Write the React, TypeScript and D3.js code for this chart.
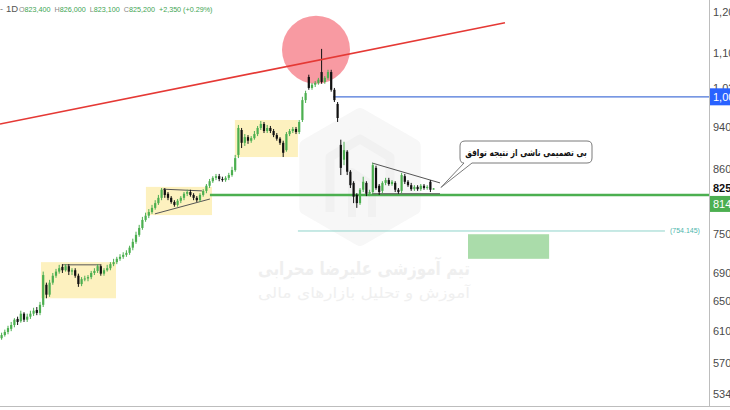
import React from "react";
import * as d3 from "d3";

// ---- Candle data (daily OHLC) ----
const opens = [
  601, 605, 609, 613, 618, 626, 623, 633, 625, 629,
  633, 638, 634, 645, 673, 659, 676, 686, 692, 699,
  694, 700, 692, 694, 686, 674, 681, 682, 684, 690,
  693, 700, 689, 694, 697, 703, 706, 711, 714, 717,
  720, 728, 737, 748, 759, 772, 779, 785, 792, 800,
  809, 823, 816, 809, 802, 797, 804, 809, 816, 819,
  814, 809, 805, 814, 821, 830, 838, 844, 847, 842,
  840, 844, 849, 858, 886, 934, 909, 920, 913, 918,
  926, 938, 946, 932, 938, 932, 924, 917, 909, 895,
  926, 932, 936, 930, 954, 995, 1045, 1021, 1028, 1032,
  1056, 1034, 1043, 1056, 1017, 987, 905, 877, 892, 855,
  835, 814, 800, 823, 835, 816, 819, 862, 830, 821,
  835, 840, 833, 835, 823, 821, 847, 837, 831, 824,
  828, 824, 830, 826, 837, 823.4,
];
const highs = [
  608, 612, 617, 622, 627, 629, 637, 635, 633, 637,
  641, 642, 649, 692, 676, 680, 690, 696, 702, 703,
  703, 703, 697, 697, 689, 684, 686, 687, 693, 697,
  703, 703, 697, 702, 706, 711, 714, 718, 721, 724,
  731, 742, 753, 764, 777, 784, 790, 797, 805, 814,
  826, 826, 819, 812, 805, 807, 812, 819, 823, 823,
  817, 812, 817, 824, 833, 842, 847, 851, 851, 846,
  847, 853, 864, 886, 944, 938, 926, 924, 922, 932,
  942, 952, 950, 944, 942, 936, 928, 920, 913, 930,
  936, 940, 940, 954, 1002, 1015, 1050, 1032, 1036, 1043,
  1109, 1047, 1061, 1061, 1021, 991, 915, 911, 895, 858,
  838, 817, 826, 846, 838, 823, 871, 866, 833, 838,
  844, 844, 840, 838, 826, 853, 851, 840, 835, 831,
  831, 833, 833, 831, 840, 826,
];
const lows = [
  599, 603, 606, 610, 615, 618, 621, 622, 622, 626,
  630, 631, 631, 642, 654, 656, 673, 683, 689, 690,
  692, 687, 687, 683, 670, 671, 678, 678, 681, 687,
  690, 686, 686, 692, 694, 700, 703, 708, 711, 714,
  717, 724, 734, 745, 756, 769, 775, 782, 789, 797,
  805, 809, 805, 799, 794, 794, 800, 805, 812, 811,
  805, 802, 802, 811, 817, 826, 835, 840, 838, 837,
  837, 840, 846, 855, 880, 899, 903, 907, 909, 915,
  922, 934, 928, 928, 928, 920, 913, 905, 882, 892,
  922, 928, 926, 926, 950, 989, 1017, 1017, 1023, 1028,
  1030, 1030, 1039, 1013, 991, 950, 849, 867, 849, 826,
  800, 792, 797, 819, 812, 812, 816, 823, 814, 817,
  831, 830, 830, 819, 816, 817, 833, 828, 821, 821,
  821, 821, 823, 823, 819, 823.1,
];
const closes = [
  605, 609, 614, 618, 625, 622, 633, 625, 629, 633,
  637, 634, 645, 687, 659, 676, 686, 692, 697, 694,
  700, 692, 694, 686, 674, 681, 682, 684, 690, 693,
  700, 689, 694, 697, 703, 706, 711, 714, 717, 720,
  728, 737, 748, 759, 772, 779, 785, 792, 800, 809,
  823, 814, 809, 802, 797, 804, 809, 816, 819, 814,
  809, 805, 814, 821, 830, 838, 844, 847, 842, 840,
  844, 849, 858, 880, 938, 909, 920, 913, 918, 926,
  938, 946, 932, 938, 932, 924, 917, 909, 890, 926,
  932, 936, 930, 950, 995, 1010, 1021, 1028, 1032, 1039,
  1034, 1043, 1056, 1017, 995, 958, 862, 895, 855, 831,
  811, 800, 823, 837, 816, 819, 867, 826, 819, 835,
  840, 833, 837, 823, 819, 849, 837, 831, 824, 828,
  824, 830, 826, 828, 823, 825.2,
];

// ---- Axis ----
const priceTicks = [534, 570, 610, 650, 690, 750, 860, 940, 1020, 1100, 1200];
const currentPrice = 825.2;
const bluePrice = 1002;
const greenPrice = 814;
const tealPrice = 754.145;

// ---- Header ----
const headerLabels = ["O", "H", "L", "C"];
const headerValues = ["823,400", "826,000", "823,100", "825,200"];
const headerChange = "+2,350 (+0.29%)";

// ---- Drawings (bar index, price) ----
const redLineIdx = [-0.5, 157.3];
const redLinePrice = [946, 1172];
const circleIdx = 98.25;
const circlePrice = 1107;
const blueStartIdx = 103.6;
const greenStartIdx = 65.1;
const tealIdx = [92.6, 207.3];
const greenBoxIdx = [145.75, 171.1];
const greenBoxPrice = [749, 711];
const yellowIdx0 = [12.3, 45.1, 72.9];
const yellowIdx1 = [35.75, 65.75, 92.6];
const yellowTop = [706, 828, 954];
const yellowBottom = [654, 780, 882];
const trendIdx0 = [18.9, 50.4, 47.9, 115.75, 115.75];
const trendIdx1 = [30.75, 62.6, 65.1, 137, 137];
const trendPrice0 = [702, 824, 782, 871, 816];
const trendPrice1 = [702, 821, 807, 835, 816];
const calloutIdx = 137.3;
const calloutPrice = 827;
const calloutText = "بی تصمیمی ناشی از نتیجه توافق";
const watermark1 = "تیم آموزشی علیرضا محرابی";
const watermark2 = "آموزش و تحلیل بازارهای مالی";

const W = 730;
const H = 410;
const AXIS_X = 709;
const BOTTOM = 406;

export default function App() {
  const n = closes.length;
  const x = d3.scaleLinear().domain([0, n - 1]).range([1.6, 1.6 + 3.2 * (n - 1)]);
  const y = d3.scaleLog().domain([520.6, 1230]).range([BOTTOM, 0]);
  const fmt = d3.format(",");
  const up = "#4caf50";
  const down = "#111";

  const cx = 360, cy = 177, r = 62;
  const hex = d3.range(6).map((k) => {
    const a = (Math.PI / 3) * k - Math.PI / 2;
    return [cx + r * Math.cos(a), cy + r * Math.sin(a)] as [number, number];
  });
  const hexPath = d3.line().curve(d3.curveLinearClosed)(hex) as string;

  const ax = x(calloutIdx), ay = y(calloutPrice);
  const bx = 460, by = 141, bw = 132, bh = 22, rr = 5;
  const callPath = `M${bx + rr},${by} H${bx + bw - rr} Q${bx + bw},${by} ${bx + bw},${by + rr} V${by + bh - rr} Q${bx + bw},${by + bh} ${bx + bw - rr},${by + bh} H${bx + 12} L${ax},${ay} L${bx + 4},${by + bh} Q${bx},${by + bh} ${bx},${by + bh - rr} V${by + rr} Q${bx},${by} ${bx + rr},${by} Z`;

  return (
    <svg width={W} height={H} style={{ position: "absolute", left: 0, top: 0, background: "#fff" }}
      fontFamily="'Liberation Sans', Arial, sans-serif">
      <defs>
        <clipPath id="plot"><rect x={0} y={0} width={AXIS_X} height={BOTTOM} /></clipPath>
      </defs>
      <rect x={0} y={0} width={W} height={H} fill="#fff" />
      <g clipPath="url(#plot)">
        {/* watermark */}
        <path d={hexPath} fill="#f7f7f7" stroke="#f7f7f7" strokeWidth={14} strokeLinejoin="round" />
        <path d={`M${cx - 30},${cy + 35} V${cy - 20} L${cx},${cy - 38} L${cx + 30},${cy - 20} V${cy + 5}`} fill="none" stroke="#f1f1f1" strokeWidth={9} strokeLinejoin="round" />
        <path d={`M${cx - 8},${cy + 40} V${cy - 5} L${cx + 12},${cy + 8} V${cy + 40}`} fill="none" stroke="#f1f1f1" strokeWidth={8} strokeLinejoin="round" />
        <text x={364} y={275} textAnchor="middle" fontFamily="'DejaVu Sans'" fontWeight="bold" fontSize={19} fill="#efefef" textLength={212} lengthAdjust="spacingAndGlyphs">{watermark1}</text>
        <text x={364} y={298} textAnchor="middle" fontFamily="'DejaVu Sans'" fontSize={15} fill="#f0f0f0" textLength={212} lengthAdjust="spacingAndGlyphs">{watermark2}</text>

        {/* yellow zones */}
        {yellowIdx0.map((i0, k) => (
          <rect key={"yb" + k} x={x(i0)} y={y(yellowTop[k])} width={x(yellowIdx1[k]) - x(i0)}
            height={y(yellowBottom[k]) - y(yellowTop[k])} fill="#fdf1bf" />
        ))}
        {/* green target box */}
        <rect x={x(greenBoxIdx[0])} y={y(greenBoxPrice[0])} width={x(greenBoxIdx[1]) - x(greenBoxIdx[0])}
          height={y(greenBoxPrice[1]) - y(greenBoxPrice[0])} fill="#aadcaa" />

        {/* circle */}
        <circle cx={x(circleIdx)} cy={y(circlePrice)} r={34} fill="rgba(242,54,69,0.5)" />

        {/* horizontal levels */}
        <line x1={x(blueStartIdx)} x2={AXIS_X} y1={y(bluePrice)} y2={y(bluePrice)} stroke="#4a74d9" strokeWidth={1.3} />
        <line x1={x(tealIdx[0])} x2={x(tealIdx[1])} y1={y(tealPrice)} y2={y(tealPrice)} stroke="#8fd3ca" strokeWidth={1} />
        <line x1={x(greenStartIdx)} x2={AXIS_X} y1={y(greenPrice)} y2={y(greenPrice)} stroke="#4caf50" strokeWidth={2.6} />
        <text x={x(tealIdx[1]) + 5} y={y(tealPrice) + 2.5} fontSize={7} fill="#4db6ac">({d3.format(",.3f")(tealPrice)})</text>

        {/* pattern lines */}
        {trendIdx0.map((i0, k) => (
          <line key={"tl" + k} x1={x(i0)} x2={x(trendIdx1[k])} y1={y(trendPrice0[k])} y2={y(trendPrice1[k])}
            stroke="#555" strokeWidth={1} />
        ))}

        {/* candles */}
        {closes.map((c, i) => {
          const o = opens[i];
          const col = c >= o ? up : down;
          const top = y(Math.max(o, c));
          const bot = y(Math.min(o, c));
          return (
            <g key={i}>
              <line x1={x(i)} x2={x(i)} y1={y(highs[i])} y2={y(lows[i])} stroke={col} strokeWidth={1} />
              <rect x={x(i) - 1.1} y={top} width={2.2} height={Math.max(1, bot - top)} fill={col} />
            </g>
          );
        })}

        {/* red trend line */}
        <line x1={x(redLineIdx[0])} x2={x(redLineIdx[1])} y1={y(redLinePrice[0])} y2={y(redLinePrice[1])}
          stroke="#e53935" strokeWidth={1.6} />

        {/* callout */}
        <path d={callPath} fill="#fff" stroke="#7a7a7a" strokeWidth={1} />
        <g transform={`translate(${bx + bw / 2},${by + 15}) scale(0.76,1)`}>
          <text x={0} y={0} textAnchor="middle" fontFamily="'DejaVu Sans'" fontWeight="bold" fontSize={9.8} fill="#111">{calloutText}</text>
        </g>
      </g>

      {/* header */}
      <text x={0} y={12} fontSize={9} fill="#777">-</text>
      <text x={6} y={12} fontSize={9.5} fill="#555">1D</text>
      <text x={19} y={12} fontSize={7.2} fill="#3ea452">
        {headerLabels.map((l, k) => (
          <React.Fragment key={"h" + k}>
            <tspan dx={k === 0 ? 0 : 4} fill="#888">{l}</tspan>
            <tspan>{headerValues[k]}</tspan>
          </React.Fragment>
        ))}
        <tspan dx={4}>{headerChange}</tspan>
      </text>

      {/* price axis */}
      <line x1={AXIS_X + 0.5} x2={AXIS_X + 0.5} y1={0} y2={BOTTOM} stroke="#bdbdbd" />
      <line x1={0} x2={W} y1={BOTTOM + 0.5} y2={BOTTOM + 0.5} stroke="#bdbdbd" />
      {priceTicks.map((t) => (
        <text key={t} x={AXIS_X + 4} y={y(t) + 4} fontSize={11} fill="#4a4a4a">{fmt(t)}</text>
      ))}
      <rect x={AXIS_X + 1} y={y(bluePrice) - 8.5} width={W - AXIS_X} height={17} fill="#2962ff" />
      <text x={AXIS_X + 4} y={y(bluePrice) + 4} fontSize={11} fill="#fff">{fmt(bluePrice)}</text>
      <rect x={AXIS_X + 1} y={y(currentPrice) - 7} width={W - AXIS_X} height={14} fill="#fff" />
      <text x={AXIS_X + 4} y={y(currentPrice) + 4} fontSize={11} fontWeight="bold" fill="#111">{Math.round(currentPrice)}</text>
      <rect x={AXIS_X + 1} y={y(greenPrice) + 1} width={W - AXIS_X} height={16} fill="#4caf50" />
      <text x={AXIS_X + 4} y={y(greenPrice) + 13} fontSize={11} fill="#fff">{fmt(greenPrice)}</text>
    </svg>
  );
}
